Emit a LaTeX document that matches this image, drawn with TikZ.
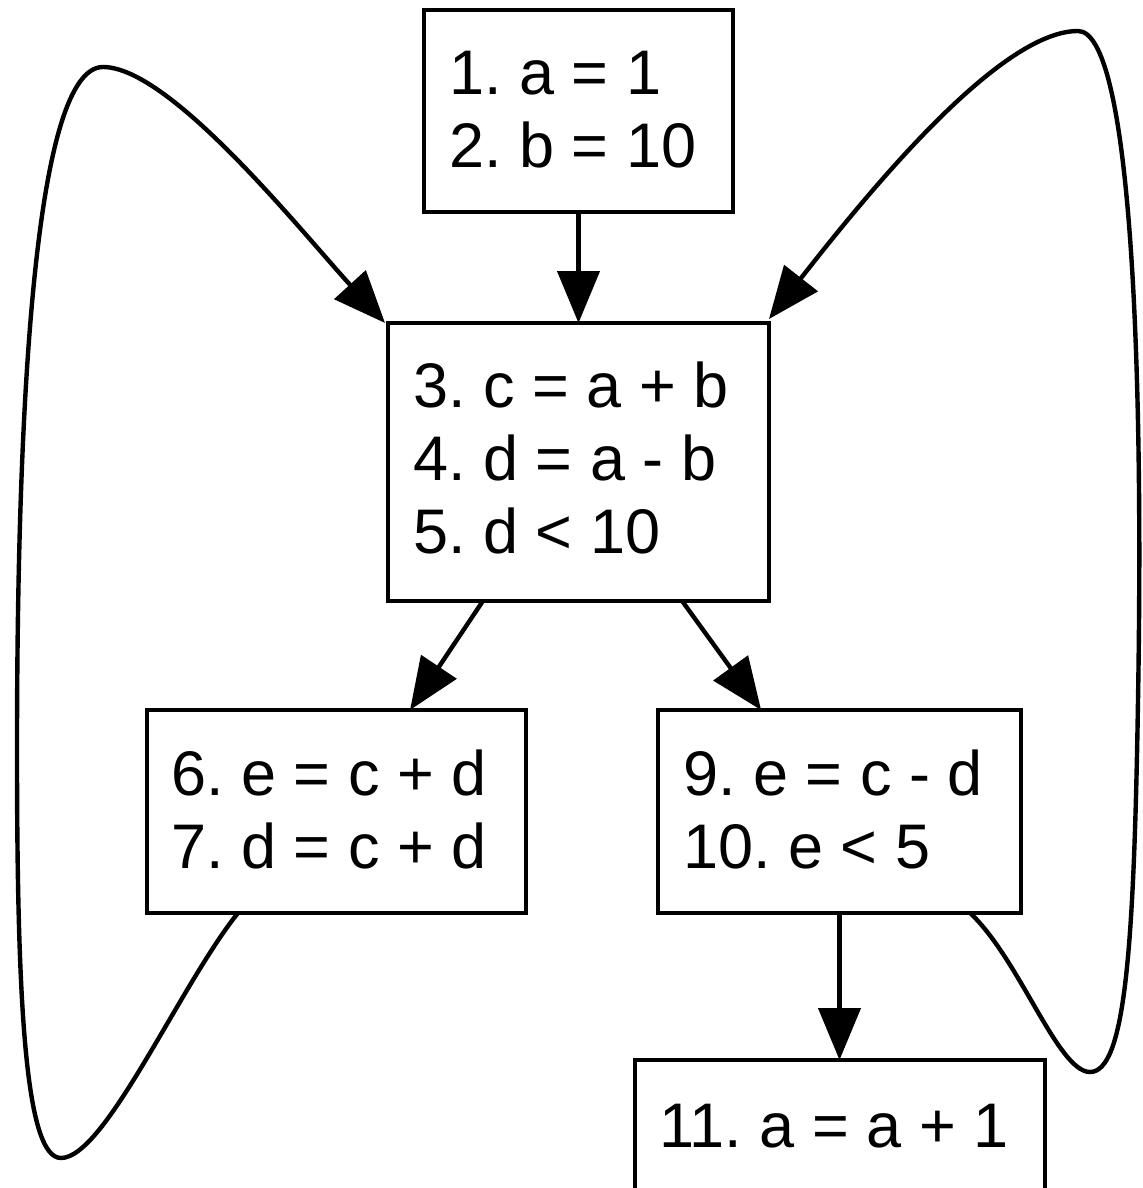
\documentclass[tikz,border=0pt]{standalone}
\usepackage{fontspec}
\setmainfont{Liberation Sans}
\usetikzlibrary{arrows.meta,calc}
\begin{document}
\frenchspacing
\begin{tikzpicture}[x=0.5pt,y=-0.5pt,
  box/.style={draw,line width=2.2pt,inner sep=0pt,outer sep=0pt,rectangle},
  txt/.style={anchor=base west,inner sep=0pt,font=\fontsize{31.5pt}{36pt}\selectfont},
  arr/.style={line width=2.2pt,-{Triangle[length=26pt,width=21pt]}},
  loopline/.style={line width=2.2pt}]
\useasboundingbox (0,0) rectangle (1143,1188);
\clip (0,0) rectangle (1143,1188);
% boxes
\node[box,minimum width=154.5pt,minimum height=101pt] (b1) at (578.5,111) {};
\node[box,minimum width=190.5pt,minimum height=139pt] (b2) at (578.5,462) {};
\node[box,minimum width=189.5pt,minimum height=101.5pt] (b3) at (336.5,811.5) {};
\node[box,minimum width=181.5pt,minimum height=101.5pt] (b4) at (839.5,811.5) {};
\node[box,minimum width=205pt,minimum height=70pt] (b5) at (840,1130) {};
% texts
\node[txt] (t1) at (449,95) {1. a = 1};
\node[txt] (t2) at (449,168) {2. b = 10};
\node[txt] (t3) at (413,407) {3. c = a + b};
\node[txt] (t4) at (413,480) {4. d = a - b};
\node[txt] (t5) at (413,553) {5. d {<} 10};
\node[txt] (t6) at (171,795) {6. e = c + d};
\node[txt] (t7) at (171,868) {7. d = c + d};
\node[txt] (t9) at (683,795) {9. e = c - d};
\node[txt] (t10) at (683,868) {10. e {<} 5};
\node[txt] (t11) at (659,1147) {11. a = a + 1};
% straight connectors
\draw[arr] (b1.south) -- (b2.north);
\draw[arr] ($(b2.south west)!0.249!(b2.south east)$) -- ($(b3.north west)!0.694!(b3.north east)$);
\draw[arr] ($(b2.south west)!0.772!(b2.south east)$) -- ($(b4.north west)!0.284!(b4.north east)$);
\draw[arr] (b4.south) -- (b4.south |- b5.north);
% loops
\coordinate (ls) at ($(b3.south west)!0.24!(b3.south east)$);
\coordinate (rs) at ($(b4.south west)!0.86!(b4.south east)$);
\draw[loopline,arr] (ls) .. controls (180,985) and (105,1158) .. (61,1158)
  .. controls (25,1158) and (17,1000) .. (17,750)
  .. controls (17,400) and (35,67) .. (103,67)
  .. controls (170,67) and (300,230) .. ([xshift=-1.5pt]b2.north west);
\draw[loopline,arr] (rs) .. controls (1020,960) and (1058,1072) .. (1090,1072)
  .. controls (1125,1072) and (1134,950) .. (1138,700)
  .. controls (1144,350) and (1130,31) .. (1078,31)
  .. controls (1000,31) and (870,190) .. ([yshift=2pt]b2.north east);
\end{tikzpicture}
\end{document}
